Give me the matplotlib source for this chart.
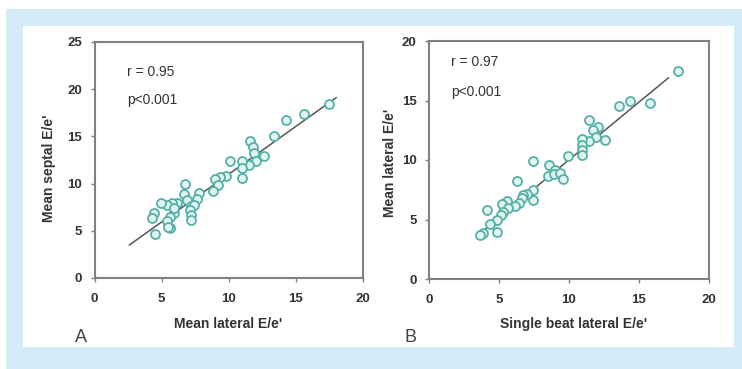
import matplotlib
matplotlib.use("Agg")
import matplotlib.pyplot as plt
from matplotlib.patches import Rectangle

# ---------------- data ----------------
a_lateral = [17.5, 15.6, 14.3, 13.4, 11.6, 11.8, 11.9, 12.6, 12.0, 11.5, 11.0, 11.0, 11.0,
             10.1, 9.8, 9.35, 9.0, 9.2, 8.8, 7.8, 7.66, 6.75, 6.67, 6.87, 6.17, 5.77, 5.43,
             4.93, 7.2, 7.4, 7.1, 7.2, 7.2, 5.9, 5.6, 5.4, 5.6, 5.45, 4.43, 4.3, 4.5, 5.9]
a_septal = [18.4, 17.4, 16.7, 15.0, 14.5, 13.9, 13.2, 12.9, 12.4, 12.0, 12.4, 11.6, 10.6,
            12.4, 10.8, 10.7, 10.5, 9.85, 9.2, 9.0, 8.4, 10.0, 8.9, 8.3, 7.9, 7.97, 7.7,
            7.9, 7.6, 7.7, 7.2, 6.7, 6.1, 6.9, 6.5, 6.0, 5.3, 5.4, 6.85, 6.4, 4.66, 7.4]

b_single = [17.8, 15.8, 14.36, 13.55, 11.45, 12.05, 11.7, 12.6, 11.9, 11.45, 10.9, 10.9, 10.9,
            10.9, 9.95, 7.4, 8.6, 9.0, 8.5, 8.9, 9.36, 9.6, 6.3, 7.4, 7.4, 6.98, 6.74, 6.62,
            6.45, 6.14, 5.55, 5.19, 5.67, 5.3, 5.12, 4.84, 4.12, 4.36, 4.84, 3.83, 3.64]
b_lateral = [17.45, 14.8, 15.0, 14.5, 13.4, 12.75, 12.5, 11.7, 11.9, 11.6, 11.8, 11.25, 10.85,
             10.4, 10.3, 9.9, 9.6, 9.2, 8.65, 8.8, 8.9, 8.4, 8.2, 7.5, 6.6, 7.14, 7.1, 6.78,
             6.4, 6.13, 6.58, 6.27, 5.94, 5.66, 5.38, 5.0, 5.8, 4.62, 3.92, 3.84, 3.7]

a_fit_x = [2.6, 18.0]
a_fit_y = [3.5, 19.1]
b_fit_x = [3.9, 17.1]
b_fit_y = [4.1, 16.9]

a_xticks = [0, 5, 10, 15, 20]
a_yticks = [0, 5, 10, 15, 20, 25]
b_xticks = [0, 5, 10, 15, 20]
b_yticks = [0, 5, 10, 15, 20]

a_r, a_p = "r = 0.95", "p<0.001"
b_r, b_p = "r = 0.97", "p<0.001"

# ---------------- figure ----------------
plt.rcParams['font.family'] = ['Liberation Sans', 'DejaVu Sans']
W, H = 742, 369
fig = plt.figure(figsize=(W / 100, H / 100), dpi=100)
fig.patch.set_facecolor('white')

fig.patches.append(Rectangle((6 / W, 0), 1 - 6 / W, (H - 9) / H, transform=fig.transFigure,
                             facecolor='#d5ebf8', edgecolor='none', zorder=-10))
fig.patches.append(Rectangle((23 / W, (H - 347) / H), (734 - 23) / W, (347 - 26) / H,
                             transform=fig.transFigure, facecolor='white', edgecolor='none',
                             zorder=-9))

def px_axes(l, r, t, b):
    return [l / W, (H - b) / H, (r - l) / W, (b - t) / H]

axA = fig.add_axes(px_axes(94.5, 363, 42, 278))
axB = fig.add_axes(px_axes(429, 709, 41, 279))

edge = '#55b0a8'
face = '#e2f5f3'
tick_col = '#333333'
spine_col = '#808080'

def style(ax, xt, yt, ymax, xlabel, ylabel, xlc, ylc):
    ax.set_xlim(0, 20)
    ax.set_ylim(0, ymax)
    ax.set_xticks(xt)
    ax.set_yticks(yt)
    ax.set_facecolor('none')
    for s in ax.spines.values():
        s.set_color(spine_col)
        s.set_linewidth(1.5)
    ax.tick_params(direction='out', length=3, width=1, color=spine_col,
                   labelsize=9.5, labelcolor=tick_col)
    ax.tick_params(axis='x', pad=8)
    ax.tick_params(axis='y', pad=6)
    for lab in ax.get_xticklabels() + ax.get_yticklabels():
        lab.set_fontweight('bold')
    ax.set_xlabel(xlabel, fontsize=10, fontweight='bold', color=tick_col, va='center')
    ax.set_ylabel(ylabel, fontsize=10, fontweight='bold', color=tick_col, va='center')
    ax.xaxis.set_label_coords(*xlc)
    ax.yaxis.set_label_coords(*ylc)

axA.scatter(a_lateral, a_septal, s=42, facecolors=face, edgecolors=edge, linewidths=1.3, zorder=3)
axA.plot(a_fit_x, a_fit_y, color='#555555', lw=1.1, zorder=2)
style(axA, a_xticks, a_yticks, 25, "Mean lateral E/e'", "Mean septal E/e'",
      (0.497, -0.195), (-0.169, 0.466))
axA.text(0.12, 0.874, a_r, transform=axA.transAxes, fontsize=10, color=tick_col, va='center')
axA.text(0.12, 0.754, a_p, transform=axA.transAxes, fontsize=10, color=tick_col, va='center')

axB.scatter(b_single, b_lateral, s=42, facecolors=face, edgecolors=edge, linewidths=1.3, zorder=3)
axB.plot(b_fit_x, b_fit_y, color='#555555', lw=1.1, zorder=2)
style(axB, b_xticks, b_yticks, 20, "Single beat lateral E/e'", "Mean lateral E/e'",
      (0.518, -0.189), (-0.139, 0.49))
axB.text(0.079, 0.912, b_r, transform=axB.transAxes, fontsize=10, color=tick_col, va='center')
axB.text(0.079, 0.786, b_p, transform=axB.transAxes, fontsize=10, color=tick_col, va='center')

fig.text(81 / W, (H - 337) / H, "A", fontsize=13, color='#444444', ha='center', va='center')
fig.text(410 / W, (H - 337) / H, "B", fontsize=13, color='#444444', ha='center', va='center')

fig.savefig("out.png", dpi=100)
